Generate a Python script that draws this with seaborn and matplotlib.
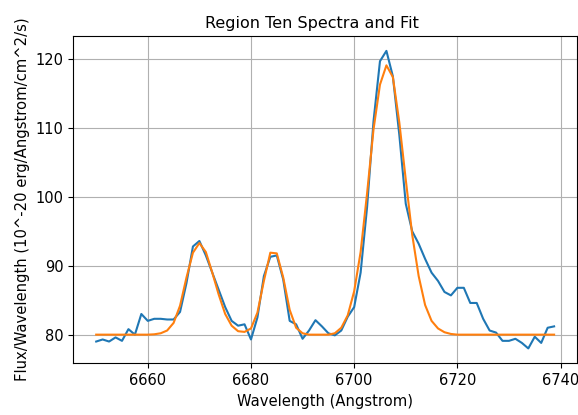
import matplotlib
matplotlib.use("Agg")
import matplotlib.pyplot as plt
import seaborn as sns

wavelength = [6650.0, 6651.25, 6652.5, 6653.75, 6655.0, 6656.25, 6657.5, 6658.75,
              6660.0, 6661.25, 6662.5, 6663.75, 6665.0, 6666.25, 6667.5, 6668.75,
              6670.0, 6671.25, 6672.5, 6673.75, 6675.0, 6676.25, 6677.5, 6678.75,
              6680.0, 6681.25, 6682.5, 6683.75, 6685.0, 6686.25, 6687.5, 6688.75,
              6690.0, 6691.25, 6692.5, 6693.75, 6695.0, 6696.25, 6697.5, 6698.75,
              6700.0, 6701.25, 6702.5, 6703.75, 6705.0, 6706.25, 6707.5, 6708.75,
              6710.0, 6711.25, 6712.5, 6713.75, 6715.0, 6716.25, 6717.5, 6718.75,
              6720.0, 6721.25, 6722.5, 6723.75, 6725.0, 6726.25, 6727.5, 6728.75,
              6730.0, 6731.25, 6732.5, 6733.75, 6735.0, 6736.25, 6737.5, 6738.75]

spectrum = [79.0, 79.3, 79.0, 79.6, 79.1, 80.8, 80.0, 83.0,
            82.0, 82.3, 82.3, 82.2, 82.2, 83.3, 87.5, 92.8,
            93.6, 91.5, 89.0, 86.5, 84.0, 82.0, 81.3, 81.5,
            79.3, 82.5, 88.5, 91.3, 91.5, 88.0, 82.0, 81.5,
            79.4, 80.6, 82.1, 81.2, 80.2, 79.9, 80.6, 82.6,
            84.0, 89.0, 98.5, 111.0, 119.7, 121.2, 117.5, 109.0,
            99.0, 95.0, 93.2, 91.0, 89.0, 87.8, 86.2, 85.7,
            86.8, 86.8, 84.6, 84.6, 82.3, 80.6, 80.3, 79.1,
            79.1, 79.4, 78.8, 78.0, 79.7, 78.8, 81.0, 81.2]

fit = [80.0, 80.0, 80.0, 80.0, 80.0, 80.0, 80.0, 80.0,
       80.0, 80.05, 80.2, 80.6, 81.7, 84.2, 88.3, 91.9,
       93.3, 92.0, 89.0, 85.8, 83.0, 81.3, 80.5, 80.4,
       80.9, 83.2, 87.8, 91.9, 91.8, 88.3, 83.6, 81.0,
       80.2, 80.0, 80.0, 80.0, 80.0, 80.2, 81.0, 82.8,
       86.3, 92.0, 100.5, 109.8, 116.3, 119.1, 117.4, 110.8,
       102.5, 94.5, 88.5, 84.3, 82.0, 80.9, 80.35, 80.1,
       80.0, 80.0, 80.0, 80.0, 80.0, 80.0, 80.0, 80.0,
       80.0, 80.0, 80.0, 80.0, 80.0, 80.0, 80.0, 80.0]

fig = plt.figure(figsize=(5.78, 4.15), dpi=100)
ax = fig.add_axes([73.3 / 578, 1 - 363.3 / 415, (577 - 73.3) / 578, (363.3 - 36) / 415])

sns.lineplot(x=wavelength, y=spectrum, ax=ax, color="#1f77b4", linewidth=1.5)
sns.lineplot(x=wavelength, y=fit, ax=ax, color="#ff7f0e", linewidth=1.5)

ax.set_title("Region Ten Spectra and Fit", fontsize=11.5, x=0.474)
ax.set_xlabel("Wavelength (Angstrom)", fontsize=10.6)
ax.set_ylabel("Flux/Wavelength (10^-20 erg/Angstrom/cm^2/s)", fontsize=10.6)
ax.set_xticks([6660, 6680, 6700, 6720, 6740])
ax.set_yticks([80, 90, 100, 110, 120])
ax.tick_params(labelsize=10.5)
ax.grid(True, color="#b0b0b0", linewidth=0.8)
ax.set_axisbelow(True)

fig.savefig("out.png", dpi=100)
